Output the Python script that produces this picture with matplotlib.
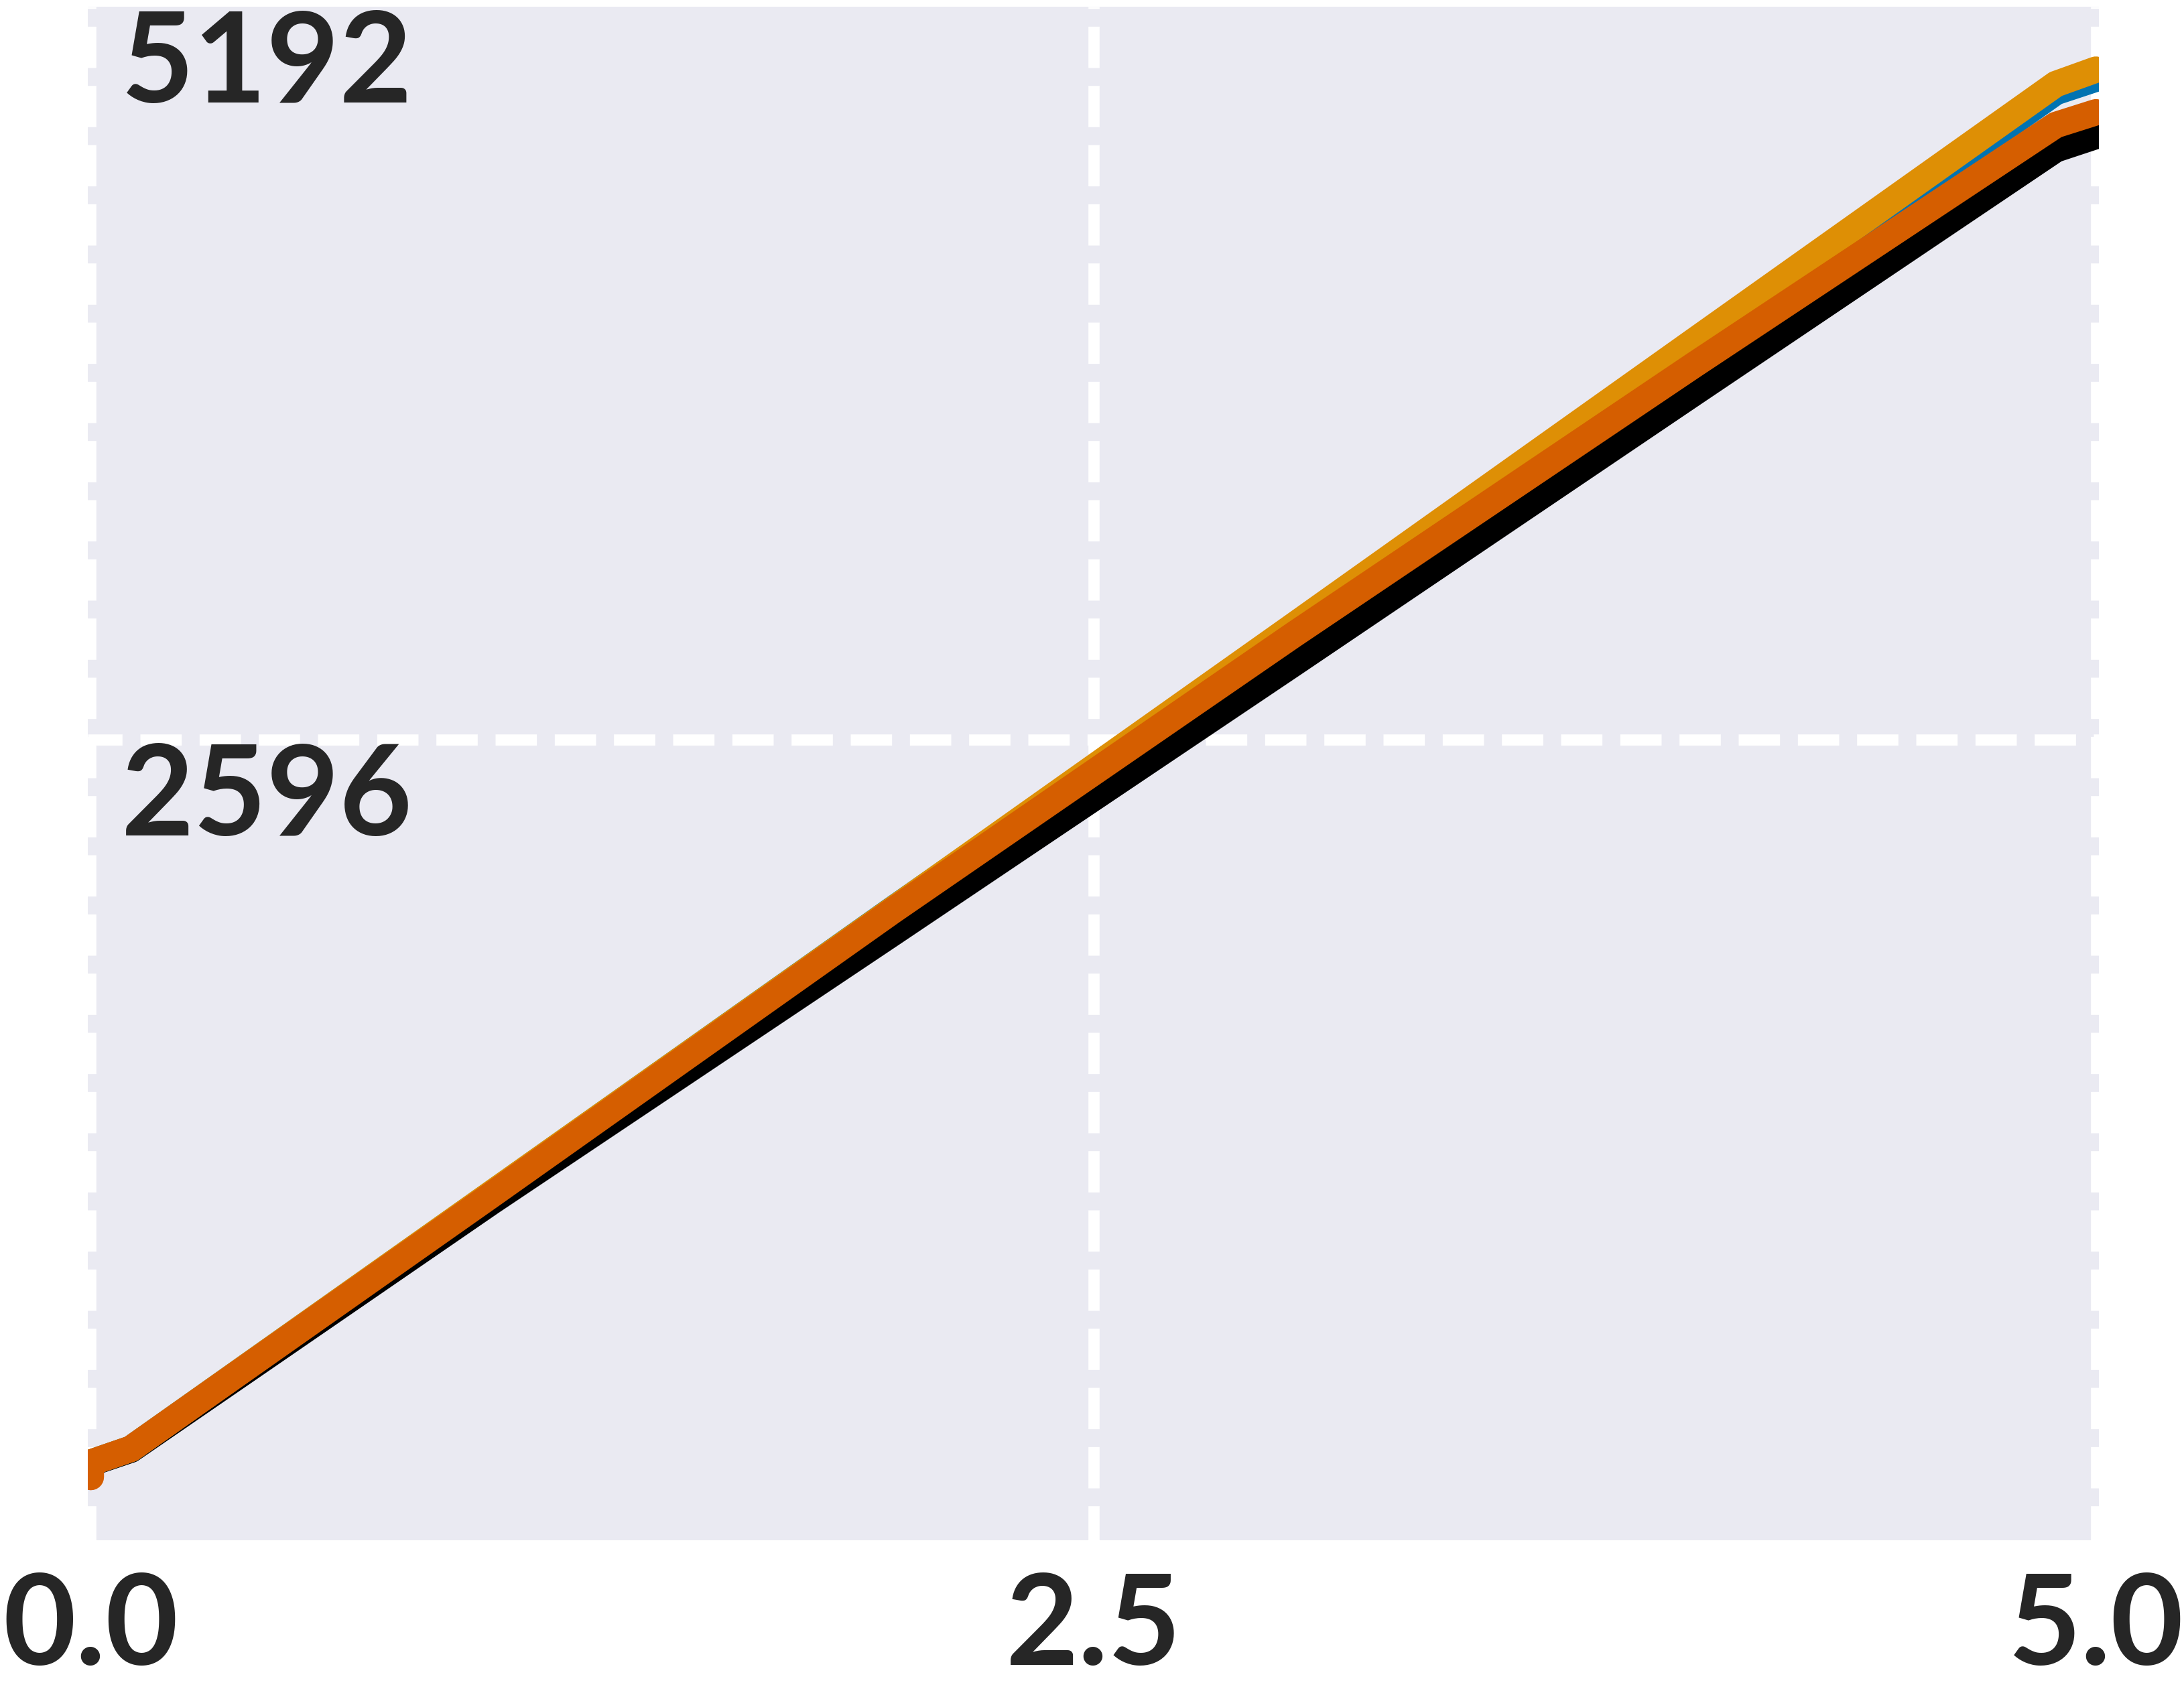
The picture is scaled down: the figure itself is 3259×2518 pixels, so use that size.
import matplotlib
matplotlib.use('Agg')
import matplotlib.pyplot as plt
from matplotlib.transforms import ScaledTranslation

# ---- data ----
x_vals = [0.0, 0.1, 1.0, 2.0, 3.0, 4.0, 4.9, 5.0]
blue_vals = [35, 84, 988, 1995, 2985, 3985, 4890, 4937]
orange_vals = [35, 84, 989, 1994, 3000, 4010, 4918, 4969]
black_vals = [33, 81, 960, 1911, 2866, 3826, 4687, 4734]
verm_x = [0.0, 0.0, 0.1, 1.0, 2.0, 3.0, 4.0, 4.9, 5.0]
verm_vals = [-16, 35, 84, 984, 1990, 2968, 3925, 4773, 4818]

xticks = [0.0, 2.5, 5.0]
xtick_labels = ['0.0', '2.5', '5.0']
yticks = [2596, 5192]
ytick_labels = ['2596', '5192']

W, H = 3259, 2518
fig = plt.figure(figsize=(W / 100, H / 100), dpi=100)
ax = fig.add_axes([131 / W, 1 - 2299 / H, (3132 - 131) / W, (2299 - 10) / H])
ax.set_facecolor('#EAEAF2')
for s in ax.spines.values():
    s.set_visible(False)

lw = 28.4
common = dict(lw=lw, solid_capstyle='round', solid_joinstyle='round')
ax.plot(x_vals, black_vals, color='black', zorder=2, **common)
ax.plot(x_vals, blue_vals, color='#0173B2', zorder=3, **common)
ax.plot(x_vals, orange_vals, color='#DE8F05', zorder=4, **common)
ax.plot(verm_x, verm_vals, color='#D55E00', zorder=5, **common)

ax.set_xlim(-0.0075, 5.0075)
ax.set_ylim(-240, 5192)
ax.set_xticks(xticks)
ax.set_xticklabels(xtick_labels)
ax.set_yticks(yticks)
ax.set_yticklabels(ytick_labels)
ax.set_axisbelow(True)
ax.grid(True, color='white', lw=12.0, linestyle=(0.62, (3.7, 1.6)))
ax.yaxis.get_major_ticks()[1].gridline.set_visible(False)

fam = ['Lato', 'DejaVu Sans']
ax.tick_params(length=0, labelsize=135, labelcolor='#262626')
ax.tick_params(axis='x', pad=33)
ax.tick_params(axis='y', pad=-36)
for lab in ax.get_xticklabels() + ax.get_yticklabels():
    lab.set_family(fam)
    lab.set_weight('bold')
for lab in ax.get_yticklabels():
    lab.set_ha('left')
    lab.set_va('top')
    lab.set_transform(lab.get_transform() + ScaledTranslation(0, -2 / 72, fig.dpi_scale_trans))

fig.savefig('out.png', dpi=100)
